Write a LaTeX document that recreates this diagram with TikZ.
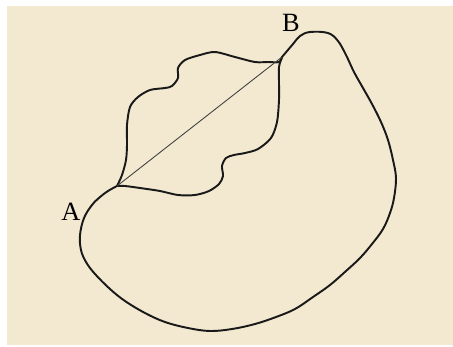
\documentclass[tikz,border=0pt]{standalone}
\usepackage{tikz}
\usetikzlibrary{positioning,backgrounds}
\usepackage{fontspec}
\setmainfont{Liberation Serif}
\definecolor{parchment}{RGB}{243,233,209}

\begin{document}
\begin{tikzpicture}[
  x=0.02cm,y=-0.02cm,
  curve/.style={draw=black!90,line width=1.1pt,line join=round,line cap=round},
  chord/.style={draw=black!75,line width=0.5pt},
  pointlabel/.style={font=\fontsize{15}{15}\selectfont,inner sep=0pt}
]
\useasboundingbox (0,0) rectangle (453,346);
\fill[white] (0,0) rectangle (453,346);
\fill[parchment] (7,6) rectangle (453,345);

\coordinate (ja) at (117,186);
\coordinate (jb) at (282,57);
\node[pointlabel] (la) at (71,212) {A};
\node[pointlabel] (lb) at (291,23) {B};

% big outer curve, closed by the chord
\draw[curve] plot[smooth,tension=0.6] coordinates {
  (ja) (108,191) (100,197) (92,205) (84,218) (80,235) (81,250) (86,262)
  (95,274) (110,289) (125,301) (145,313) (165,322) (188,328) (210,331) (232,329)
  (255,324) (276,317) (295,309) (313,297) (330,285) (346,271) (360,258)
  (372,244) (383,229) (390,213) (394,198) (396,178) (393,160) (388,140)
  (381,122) (372,104) (363,88) (354,72) (346,55) (338,41) (328,33)
  (310,32) (300,36) (293,44) (jb)};

% leaf, upper left edge
\draw[curve] plot[smooth,tension=0.5] coordinates {
  (ja) (122,175) (126,160) (127,145) (127,125) (130,107) (138,97)
  (150,90) (165,88) (172,86) (178,78) (178,68) (185,60) (200,55)
  (215,52) (235,57) (255,62) (268,62) (279,62) (jb)};

% leaf, lower right edge
\draw[curve] plot[smooth,tension=0.5] coordinates {
  (jb) (279,67) (279,82) (279,100) (277,122) (271,138) (258,149)
  (245,153) (234,155) (226,158) (222,166) (223,176) (219,184)
  (209,191) (195,195) (178,195) (160,191) (140,188) (125,186) (ja)};

\draw[chord] (ja) -- (jb);
\end{tikzpicture}
\end{document}
